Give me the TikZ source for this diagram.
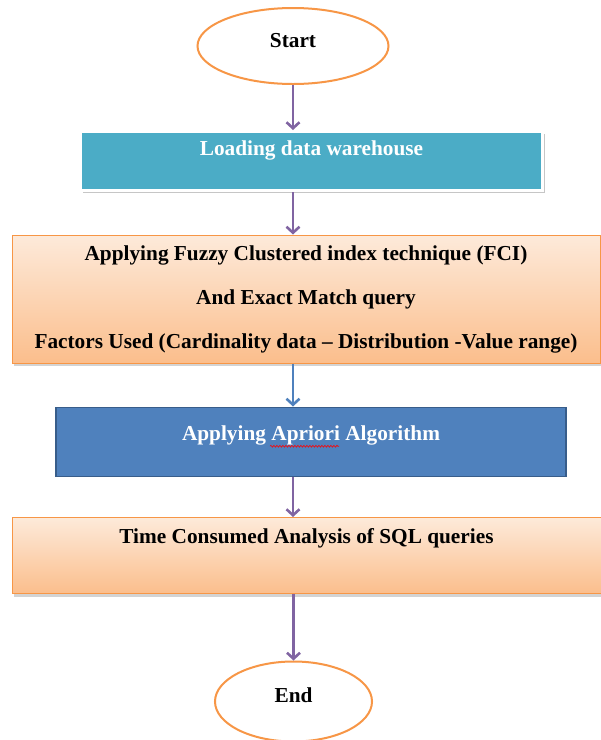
\documentclass[tikz,border=0pt]{standalone}
\usepackage{fontspec}
\setmainfont{Liberation Serif}
\usepackage{tikz}
\usetikzlibrary{shapes,arrows.meta,positioning,shadows,decorations.pathmorphing}

\definecolor{accorange}{HTML}{F79646}
\definecolor{peachtop}{HTML}{FDEADA}
\definecolor{peachbot}{HTML}{FBBE8C}
\definecolor{tealfill}{HTML}{4BACC6}
\definecolor{bluefill}{HTML}{4F81BD}
\definecolor{blueedge}{HTML}{385D8A}
\definecolor{arrowpurple}{HTML}{8064A2}

\newcommand{\boxfont}{\fontsize{21.3}{25}\selectfont\bfseries}

\tikzstyle{terminal} = [ellipse, draw=accorange, line width=2pt, fill=white,
    minimum width=191pt, minimum height=76pt, inner sep=0pt, font=\boxfont,
    text height=14pt, text depth=12pt]
\tikzstyle{tealblock} = [rectangle, draw=white, line width=3pt, fill=tealfill,
    text=white, font=\boxfont, minimum width=462pt, minimum height=59pt,
    inner sep=0pt, text height=23.5pt, text depth=35.5pt,
    drop shadow={shadow xshift=2pt, shadow yshift=-2.5pt, opacity=.45}]
\tikzstyle{block} = [rectangle, draw=accorange, line width=1pt,
    top color=peachtop, bottom color=peachbot, font=\boxfont, inner sep=0pt,
    drop shadow={shadow xshift=2pt, shadow yshift=-3pt, opacity=.35}]
\tikzstyle{darkblock} = [rectangle, draw=blueedge, line width=1.5pt,
    fill=bluefill, text=white, font=\boxfont, minimum width=510pt,
    minimum height=69pt, inner sep=0pt, text height=33pt, text depth=36pt]
\tikzstyle{line} = [draw=arrowpurple, line width=2.6pt,
    -{Straight Barb[length=6pt,width=13pt]}]
\tikzstyle{spellmark} = [draw=red, line width=.6pt, decorate,
    decoration={snake, amplitude=.9pt, segment length=3pt}]

\begin{document}
\begin{tikzpicture}[x=1pt, y=1pt]
\useasboundingbox (0,0) rectangle (601,-740);
    % Place nodes
\node [terminal] (start) at (293,-46) {Start};
\node [tealblock, below=45pt of start, xshift=18.5pt] (load) {Loading data warehouse};
\node [block, below=42.5pt of load, xshift=-5.5pt, minimum width=588pt,
    minimum height=128pt, align=center] (fci)
    {Applying Fuzzy Clustered index technique (FCI)\\[19pt]
     And Exact Match query\\[19pt]
     Factors Used (Cardinality data -- Distribution -Value range)};
\node [darkblock, below=43pt of fci, xshift=5pt] (apriori) {Applying Apriori Algorithm};
\node [block, below=40pt of apriori, xshift=-4.5pt, minimum width=589pt,
    minimum height=76pt, text height=26pt, text depth=50pt] (time)
    {Time Consumed Analysis of SQL queries};
\node [terminal, below=66.5pt of time, xshift=-13pt, minimum width=157pt,
    minimum height=80pt] (end) {End};

    % Draw edges
\path [line] (start) -- (start |- load.north);
\path [line] (load.south -| start) -- (start |- fci.north);
\path [line, draw=bluefill] (fci.south -| start) -- (start |- apriori.north);
\path [line] (apriori.south -| start) -- (start |- time.north);
\path [line] (time.south -| end) -- (end);

    % spell check mark under the word Apriori
\path [spellmark] ([xshift=-41pt,yshift=-4.5pt]apriori.center) -- ++(69pt,0);

\end{tikzpicture}
\end{document}
